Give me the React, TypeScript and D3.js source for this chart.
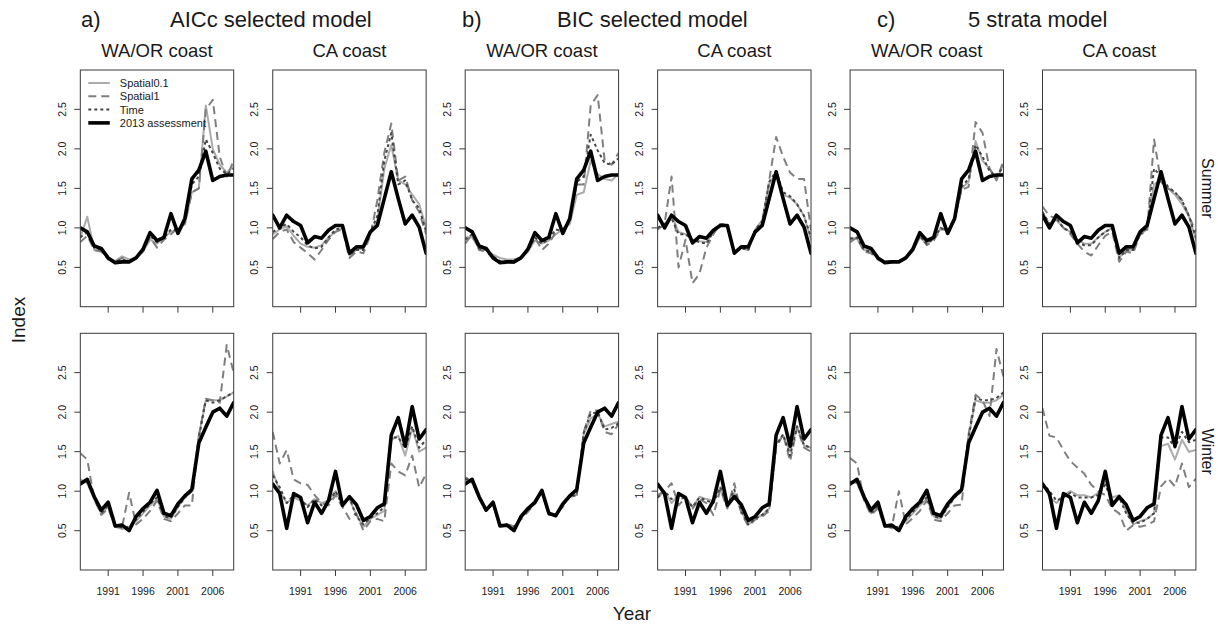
import React from 'react';
import * as d3 from 'd3';

// ---------- data ----------
const years = [1987, 1988, 1989, 1990, 1991, 1992, 1993, 1994, 1995, 1996, 1997, 1998, 1999, 2000, 2001, 2002, 2003, 2004, 2005, 2006, 2007, 2008, 2009];
const xTicks = [1991, 1996, 2001, 2006];
const yTicks = [0.5, 1.0, 1.5, 2.0, 2.5];
const groupTitles = ['AICc selected model', 'BIC selected model', '5 strata model'];
const groupLetters = ['a)', 'b)', 'c)'];
const regions = ['WA/OR coast', 'CA coast'];
const seasons = ['Summer', 'Winter'];
const seriesNames = ['Spatial0.1', 'Spatial1', 'Time', '2013 assessment'];

// 2013 assessment (same in every model group)
const blkWaSum = [1.00, 0.95, 0.77, 0.74, 0.62, 0.56, 0.57, 0.57, 0.62, 0.73, 0.94, 0.84, 0.88, 1.18, 0.93, 1.12, 1.62, 1.73, 1.97, 1.60, 1.65, 1.67, 1.67];
const blkCaSum = [1.16, 1.00, 1.16, 1.08, 1.03, 0.81, 0.89, 0.87, 0.97, 1.03, 1.03, 0.68, 0.76, 0.76, 0.95, 1.03, 1.37, 1.71, 1.37, 1.05, 1.16, 1.01, 0.68];
const blkWaWin = [1.09, 1.15, 0.93, 0.76, 0.86, 0.56, 0.57, 0.50, 0.68, 0.78, 0.86, 1.01, 0.72, 0.69, 0.84, 0.94, 1.02, 1.61, 1.81, 2.00, 2.05, 1.95, 2.12];
const blkCaWin = [1.09, 0.97, 0.53, 0.97, 0.92, 0.60, 0.86, 0.72, 0.88, 1.25, 0.82, 0.93, 0.83, 0.63, 0.68, 0.79, 0.84, 1.71, 1.93, 1.57, 2.07, 1.66, 1.78];

// a) AICc selected model
const aWaSumS01 = [0.88, 1.14, 0.72, 0.70, 0.62, 0.58, 0.64, 0.60, 0.62, 0.70, 0.85, 0.80, 0.88, 0.95, 0.98, 1.05, 1.45, 1.50, 2.55, 2.00, 1.80, 1.70, 1.78];
const aWaSumS1 = [0.82, 0.90, 0.72, 0.70, 0.60, 0.57, 0.62, 0.58, 0.62, 0.70, 0.88, 0.75, 0.85, 0.92, 1.00, 1.05, 1.45, 1.50, 2.50, 2.62, 1.90, 1.65, 1.85];
const aWaSumTime = [0.88, 0.95, 0.75, 0.72, 0.62, 0.57, 0.60, 0.58, 0.62, 0.72, 0.90, 0.82, 0.88, 0.98, 0.97, 1.08, 1.55, 1.65, 2.12, 1.95, 1.75, 1.68, 1.75];
const aCaSumS01 = [0.92, 0.98, 1.02, 0.90, 0.80, 0.76, 0.75, 0.78, 0.88, 0.95, 1.00, 0.65, 0.72, 0.74, 0.92, 1.10, 1.75, 2.05, 1.60, 1.55, 1.42, 1.30, 1.00];
const aCaSumS1 = [0.86, 0.95, 0.98, 0.82, 0.75, 0.68, 0.60, 0.72, 0.85, 0.95, 0.98, 0.62, 0.70, 0.68, 0.90, 1.35, 1.95, 2.32, 1.60, 1.65, 1.35, 1.20, 0.92];
const aCaSumTime = [0.95, 1.00, 1.05, 0.95, 0.88, 0.78, 0.74, 0.76, 0.88, 0.98, 1.00, 0.66, 0.72, 0.72, 0.95, 1.15, 1.85, 2.20, 1.55, 1.60, 1.35, 1.25, 0.95];
const aWaWinS01 = [1.15, 1.10, 0.90, 0.72, 0.80, 0.55, 0.52, 0.55, 0.62, 0.72, 0.82, 0.90, 0.68, 0.65, 0.80, 0.92, 1.00, 1.70, 2.15, 2.15, 2.15, 2.20, 2.25];
const aWaWinS1 = [1.48, 1.40, 0.90, 0.70, 0.78, 0.55, 0.55, 0.98, 0.58, 0.65, 0.75, 0.88, 0.65, 0.62, 0.72, 0.82, 0.82, 1.70, 2.17, 2.15, 2.12, 2.85, 2.50];
const aWaWinTime = [1.12, 1.12, 0.92, 0.72, 0.82, 0.56, 0.54, 0.55, 0.64, 0.74, 0.84, 0.92, 0.68, 0.66, 0.80, 0.92, 1.00, 1.68, 2.15, 2.12, 2.15, 2.20, 2.25];
const aCaWinS01 = [1.25, 1.00, 0.85, 0.92, 0.88, 0.82, 0.90, 0.85, 0.88, 1.00, 0.85, 0.90, 0.70, 0.55, 0.65, 0.70, 0.75, 1.65, 1.70, 1.45, 1.80, 1.50, 1.55];
const aCaWinS1 = [1.75, 1.35, 1.52, 1.15, 1.10, 1.08, 0.95, 0.85, 0.82, 0.95, 0.80, 0.65, 0.72, 0.50, 0.62, 0.65, 0.62, 1.35, 1.25, 1.20, 1.45, 1.05, 1.22];
const aCaWinTime = [1.20, 1.05, 0.85, 0.95, 0.90, 0.80, 0.90, 0.82, 0.85, 1.00, 0.82, 0.92, 0.68, 0.58, 0.66, 0.72, 0.80, 1.68, 1.68, 1.55, 1.82, 1.55, 1.65];

// b) BIC selected model
const bWaSumS01 = [0.88, 0.88, 0.74, 0.72, 0.66, 0.62, 0.60, 0.60, 0.63, 0.70, 0.84, 0.80, 0.84, 0.92, 0.98, 1.05, 1.42, 1.45, 1.85, 1.68, 1.62, 1.60, 1.68];
const bWaSumS1 = [0.80, 0.92, 0.72, 0.70, 0.62, 0.56, 0.55, 0.56, 0.62, 0.70, 0.88, 0.72, 0.80, 0.95, 0.98, 1.10, 1.55, 1.55, 2.55, 2.68, 1.85, 1.80, 1.95];
const bWaSumTime = [0.85, 0.92, 0.74, 0.72, 0.64, 0.58, 0.57, 0.58, 0.63, 0.72, 0.88, 0.80, 0.86, 0.98, 0.96, 1.10, 1.58, 1.65, 2.18, 1.98, 1.82, 1.80, 1.88];
const bCaSumS01 = [0.98, 1.05, 1.15, 0.95, 0.92, 0.85, 0.83, 0.82, 0.95, 1.05, 1.03, 0.70, 0.75, 0.72, 0.98, 1.10, 1.55, 1.70, 1.42, 1.38, 1.30, 1.15, 0.85];
const bCaSumS1 = [0.98, 1.05, 1.65, 0.50, 0.85, 0.30, 0.42, 0.75, 0.92, 1.05, 1.03, 0.68, 0.76, 0.72, 0.98, 1.05, 1.60, 2.15, 1.90, 1.70, 1.62, 1.62, 0.97];
const bCaSumTime = [1.00, 1.05, 1.12, 0.92, 0.92, 0.85, 0.82, 0.80, 0.95, 1.05, 1.03, 0.70, 0.74, 0.72, 0.98, 1.08, 1.58, 1.72, 1.45, 1.40, 1.30, 1.15, 0.88];
const bWaWinS01 = [1.15, 1.10, 0.92, 0.76, 0.83, 0.58, 0.57, 0.55, 0.66, 0.76, 0.84, 0.98, 0.72, 0.70, 0.82, 0.92, 0.96, 1.72, 1.92, 1.98, 1.82, 1.85, 1.88];
const bWaWinS1 = [1.18, 1.12, 0.90, 0.75, 0.84, 0.57, 0.58, 0.56, 0.64, 0.74, 0.84, 1.00, 0.70, 0.70, 0.80, 0.94, 0.94, 1.75, 2.02, 2.02, 1.75, 1.72, 1.85];
const bWaWinTime = [1.16, 1.12, 0.92, 0.76, 0.84, 0.57, 0.57, 0.55, 0.66, 0.76, 0.85, 0.99, 0.71, 0.70, 0.82, 0.93, 0.95, 1.74, 1.98, 2.00, 1.78, 1.80, 1.86];
const bCaWinS01 = [0.92, 1.00, 0.85, 0.95, 0.92, 0.80, 0.93, 0.90, 0.88, 1.05, 0.80, 0.98, 0.75, 0.58, 0.65, 0.70, 0.78, 1.60, 1.70, 1.50, 1.82, 1.58, 1.55];
const bCaWinS1 = [0.95, 1.00, 1.10, 0.82, 0.92, 0.78, 0.90, 0.85, 0.70, 1.02, 0.78, 1.10, 0.72, 0.56, 0.64, 0.68, 0.75, 1.55, 1.72, 1.38, 1.80, 1.55, 1.50];
const bCaWinTime = [0.92, 1.00, 0.90, 0.90, 0.92, 0.80, 0.92, 0.88, 0.85, 1.05, 0.82, 1.02, 0.74, 0.58, 0.65, 0.70, 0.78, 1.58, 1.72, 1.45, 1.82, 1.58, 1.55];

// c) 5 strata model
const cWaSumS01 = [0.88, 0.86, 0.72, 0.70, 0.62, 0.58, 0.58, 0.58, 0.62, 0.70, 0.88, 0.80, 0.86, 1.00, 0.96, 1.10, 1.50, 1.58, 2.10, 1.85, 1.75, 1.62, 1.80];
const cWaSumS1 = [0.82, 0.88, 0.70, 0.68, 0.60, 0.56, 0.57, 0.57, 0.62, 0.72, 0.90, 0.78, 0.84, 0.98, 0.98, 1.12, 1.48, 1.52, 2.34, 2.20, 1.75, 1.60, 1.85];
const cWaSumTime = [0.86, 0.88, 0.72, 0.70, 0.62, 0.57, 0.57, 0.58, 0.63, 0.72, 0.90, 0.80, 0.86, 1.00, 0.96, 1.10, 1.52, 1.62, 2.05, 1.90, 1.72, 1.65, 1.78];
const cCaSumS01 = [1.20, 1.05, 1.10, 1.00, 0.95, 0.85, 0.80, 0.80, 0.88, 0.95, 1.00, 0.62, 0.72, 0.72, 0.92, 0.98, 1.55, 1.60, 1.50, 1.42, 1.30, 1.15, 0.85];
const cCaSumS1 = [1.27, 1.15, 1.12, 1.00, 0.92, 0.80, 0.70, 0.65, 0.78, 0.90, 0.95, 0.57, 0.70, 0.68, 0.92, 0.95, 2.12, 1.58, 1.50, 1.45, 1.35, 1.15, 0.95];
const cCaSumTime = [1.20, 1.05, 1.12, 1.00, 0.95, 0.82, 0.78, 0.78, 0.88, 0.95, 1.00, 0.62, 0.72, 0.72, 0.92, 1.00, 1.75, 1.65, 1.52, 1.45, 1.35, 1.15, 0.88];
const cWaWinS01 = [1.12, 1.10, 0.90, 0.72, 0.80, 0.56, 0.53, 0.55, 0.62, 0.72, 0.82, 0.90, 0.68, 0.65, 0.80, 0.92, 1.00, 1.70, 2.15, 2.12, 2.12, 2.15, 2.22];
const cWaWinS1 = [1.42, 1.35, 0.88, 0.70, 0.78, 0.55, 0.55, 1.00, 0.58, 0.66, 0.75, 0.88, 0.64, 0.62, 0.72, 0.82, 0.83, 1.72, 2.22, 2.15, 1.95, 2.80, 2.45];
const cWaWinTime = [1.12, 1.12, 0.92, 0.72, 0.82, 0.56, 0.54, 0.55, 0.64, 0.74, 0.84, 0.92, 0.68, 0.66, 0.80, 0.92, 1.00, 1.68, 2.18, 2.15, 2.15, 2.18, 2.25];
const cCaWinS01 = [1.12, 0.92, 0.85, 0.95, 1.00, 0.95, 0.95, 0.92, 0.98, 1.12, 0.92, 0.95, 0.75, 0.58, 0.62, 0.65, 0.72, 1.57, 1.60, 1.40, 1.65, 1.50, 1.52];
const cCaWinS1 = [2.05, 1.70, 1.68, 1.52, 1.38, 1.30, 1.22, 1.08, 1.00, 0.95, 0.78, 0.72, 0.50, 0.57, 0.55, 0.57, 0.62, 1.06, 1.16, 1.06, 1.35, 1.05, 1.16];
const cCaWinTime = [1.10, 1.00, 0.88, 0.92, 0.98, 0.92, 0.92, 0.92, 0.95, 1.08, 0.88, 0.92, 0.72, 0.60, 0.60, 0.65, 0.72, 1.68, 1.68, 1.55, 1.75, 1.62, 1.65];

// panels[row][col] -> [Spatial0.1, Spatial1, Time, 2013 assessment]
const panelSeries = [
  [
    [aWaSumS01, aWaSumS1, aWaSumTime, blkWaSum],
    [aCaSumS01, aCaSumS1, aCaSumTime, blkCaSum],
    [bWaSumS01, bWaSumS1, bWaSumTime, blkWaSum],
    [bCaSumS01, bCaSumS1, bCaSumTime, blkCaSum],
    [cWaSumS01, cWaSumS1, cWaSumTime, blkWaSum],
    [cCaSumS01, cCaSumS1, cCaSumTime, blkCaSum],
  ],
  [
    [aWaWinS01, aWaWinS1, aWaWinTime, blkWaWin],
    [aCaWinS01, aCaWinS1, aCaWinTime, blkCaWin],
    [bWaWinS01, bWaWinS1, bWaWinTime, blkWaWin],
    [bCaWinS01, bCaWinS1, bCaWinTime, blkCaWin],
    [cWaWinS01, cWaWinS1, cWaWinTime, blkWaWin],
    [cCaWinS01, cCaWinS1, cCaWinTime, blkCaWin],
  ],
];

// ---------- styling / layout ----------
const W = 1218;
const H = 628;
const FONT = "'Liberation Sans', Arial, Helvetica, sans-serif";
const panelLeft0 = 80.3;
const panelStep = 192.44;
const panelW = 153.4;
const rowTops = [70, 333.3];
const panelH = 236.7;
const boxColor = '#3a3a3a';
const textColor = '#1a1a1a';

const seriesStyle = [
  { stroke: '#ababab', width: 2, dash: undefined as string | undefined, cap: 'round' },
  { stroke: '#7f7f7f', width: 2, dash: '8,5', cap: 'butt' },
  { stroke: '#454545', width: 2, dash: '3,3', cap: 'butt' },
  { stroke: '#000000', width: 3.6, dash: undefined as string | undefined, cap: 'round' },
];

const titleX = [
  { letter: 81, title: 170 },
  { letter: 462, title: 557 },
  { letter: 877, title: 968 },
];

function Panel({ row, col }: { row: number; col: number }) {
  const left = panelLeft0 + panelStep * col;
  const top = rowTops[row];
  const x = d3.scaleLinear().domain([1987, 2009]).range([left, left + panelW]);
  const y = d3.scaleLinear().domain([0.0025, 2.998]).range([top + panelH, top]);
  const line = d3
    .line<number>()
    .x((_, i) => x(years[i]))
    .y((d) => y(d));
  const series = panelSeries[row][col];
  const bottom = top + panelH;
  return (
    <g>
      <defs>
        <clipPath id={`clip-${row}-${col}`}>
          <rect x={left} y={top} width={panelW} height={panelH} />
        </clipPath>
      </defs>
      <g clipPath={`url(#clip-${row}-${col})`}>
        {series.map((vals, si) => (
          <path
            key={si}
            d={line(vals) || ''}
            fill="none"
            stroke={seriesStyle[si].stroke}
            strokeWidth={seriesStyle[si].width}
            strokeDasharray={seriesStyle[si].dash}
            strokeLinecap={seriesStyle[si].cap as any}
            strokeLinejoin="round"
          />
        ))}
      </g>
      <rect x={left} y={top} width={panelW} height={panelH} fill="none" stroke={boxColor} strokeWidth={1} />
      {xTicks.map((t) => (
        <g key={t}>
          <line x1={x(t)} x2={x(t)} y1={bottom} y2={bottom + 6} stroke={boxColor} strokeWidth={1} />
          {row === 1 && (
            <text x={x(t)} y={bottom + 25} textAnchor="middle" fontSize={10.5} fill={textColor} fontFamily={FONT}>
              {t}
            </text>
          )}
        </g>
      ))}
      {yTicks.map((t) => (
        <g key={t}>
          <line x1={left - 6} x2={left} y1={y(t)} y2={y(t)} stroke={boxColor} strokeWidth={1} />
          <text
            x={left - 14.5}
            y={y(t)}
            transform={`rotate(-90 ${left - 14.5} ${y(t)})`}
            textAnchor="middle"
            fontSize={10.5}
            fill={textColor}
            fontFamily={FONT}
          >
            {t.toFixed(1)}
          </text>
        </g>
      ))}
      {row === 0 && col === 0 && (
        <g>
          {seriesNames.map((name, i) => {
            const ly = top + 13 + i * 13.3;
            return (
              <g key={name}>
                <line
                  x1={left + 8}
                  x2={left + 29.5}
                  y1={ly}
                  y2={ly}
                  stroke={seriesStyle[i].stroke}
                  strokeWidth={seriesStyle[i].width}
                  strokeDasharray={seriesStyle[i].dash}
                />
                <text x={left + 39.5} y={ly + 4} fontSize={11} fill={textColor} fontFamily={FONT}>
                  {name}
                </text>
              </g>
            );
          })}
        </g>
      )}
    </g>
  );
}

export default function App() {
  const cells: { row: number; col: number }[] = [];
  for (let r = 0; r < 2; r++) for (let c = 0; c < 6; c++) cells.push({ row: r, col: c });
  return (
    <svg
      width={W}
      height={H}
      viewBox={`0 0 ${W} ${H}`}
      style={{ position: 'absolute', left: 0, top: 0, background: '#fff' }}
    >
      <rect x={0} y={0} width={W} height={H} fill="#fff" />
      {groupTitles.map((t, g) => (
        <g key={t}>
          <text x={titleX[g].letter} y={27} fontSize={22} fill={textColor} fontFamily={FONT}>
            {groupLetters[g]}
          </text>
          <text x={titleX[g].title} y={27} fontSize={22} fill={textColor} fontFamily={FONT}>
            {t}
          </text>
        </g>
      ))}
      {[0, 1, 2, 3, 4, 5].map((c) => (
        <text
          key={c}
          x={panelLeft0 + panelStep * c + panelW / 2}
          y={57}
          textAnchor="middle"
          fontSize={18.5}
          fill={textColor}
          fontFamily={FONT}
        >
          {regions[c % 2]}
        </text>
      ))}
      {cells.map((p) => (
        <Panel key={`${p.row}-${p.col}`} row={p.row} col={p.col} />
      ))}
      {seasons.map((s, r) => {
        const cy = rowTops[r] + panelH / 2;
        return (
          <text
            key={s}
            x={1202}
            y={cy}
            transform={`rotate(90 1202 ${cy})`}
            textAnchor="middle"
            fontSize={16}
            fill={textColor}
            fontFamily={FONT}
          >
            {s}
          </text>
        );
      })}
      <text
        x={25}
        y={320}
        transform="rotate(-90 25 320)"
        textAnchor="middle"
        fontSize={19}
        fill={textColor}
        fontFamily={FONT}
      >
        Index
      </text>
      <text x={632} y={620} textAnchor="middle" fontSize={19} fill={textColor} fontFamily={FONT}>
        Year
      </text>
    </svg>
  );
}
